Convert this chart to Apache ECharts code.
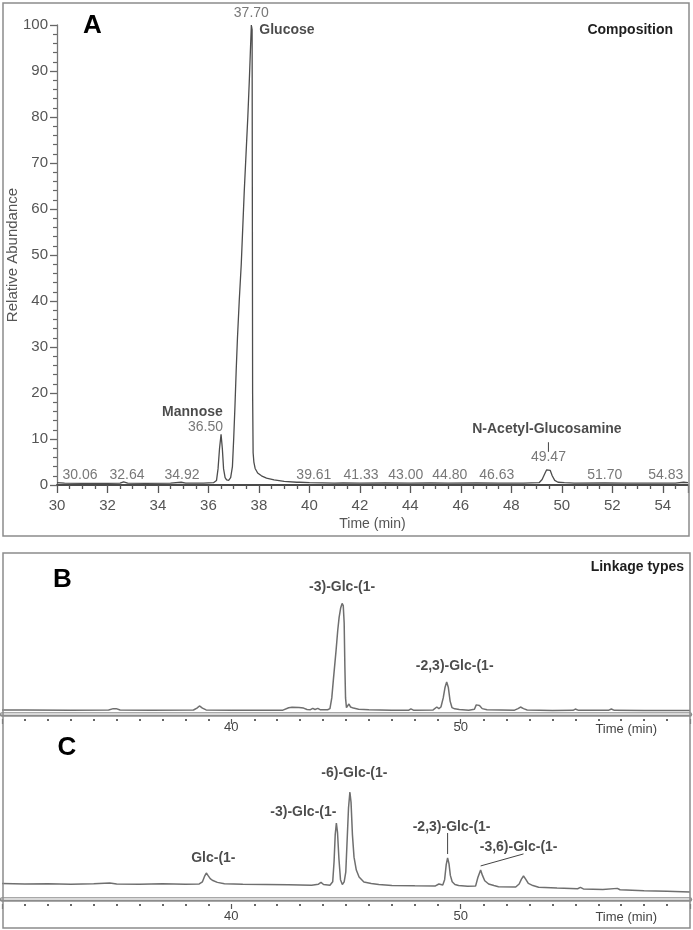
<!DOCTYPE html>
<html><head><meta charset="utf-8">
<script src="https://cdn.jsdelivr.net/npm/echarts@6/dist/echarts.min.js"></script>
<style>html,body{margin:0;padding:0;background:#fff}#c{width:693px;height:930px}</style>
</head><body><div id="c"></div>
<script>
// ================= DATA =================
// Panel A : monosaccharide composition (relative abundance, %)
const timeA  = [30.0,30.06,30.3,31.0,32.0,32.5,32.64,32.8,33.5,34.5,34.92,35.1,35.8,36.2,36.32,36.38,36.44,36.50,36.55,36.60,36.66,36.72,36.80,36.88,36.95,37.00,37.05,37.10,37.15,37.22,37.30,37.36,37.42,37.49,37.56,37.62,37.66,37.70,37.73,37.74,37.75,37.77,37.80,37.85,37.95,38.1,38.3,38.6,39.0,39.5,39.61,40.0,41.0,41.33,42.0,43.0,44.0,44.8,45.5,46.63,47.5,48.5,49.1,49.22,49.32,49.40,49.47,49.54,49.62,49.72,49.85,50.1,50.5,51.7,52.5,53.5,54.5,54.83,55.0];
const abundA = [0.5,0.6,0.4,0.35,0.35,0.4,0.7,0.4,0.35,0.4,0.6,0.4,0.4,0.5,1.0,3.5,8,11,8,3.5,1.6,1.1,1.0,1.6,4,10,17,25,32,40,48,56,64,72,80,88,94,100,99,60,20,7,5,3.6,2.6,2.0,1.5,1.1,0.8,0.6,0.6,0.5,0.4,0.45,0.4,0.45,0.4,0.45,0.4,0.45,0.4,0.4,0.5,1.2,2.4,3.3,3.6,3.2,2.0,1.0,0.6,0.5,0.4,0.45,0.4,0.4,0.4,0.6,0.5];
const peakNamesA   = ['Mannose','Glucose','N-Acetyl-Glucosamine'];
const peakTimesA   = [36.50, 37.70, 49.47];
const peakHeightsA = [11, 100, 3.6];
const minorRtA     = [30.06, 32.64, 34.92, 39.61, 41.33, 43.00, 44.80, 46.63, 51.70, 54.83];
const minorRtHeightA = 0.4;

// Panel B : linkage types (detector response, arbitrary units)
const timeB  = [30.0,31.0,33.0,34.65,34.85,34.98,35.15,36.5,38.35,38.5,38.61,38.74,38.9,40.0,41.0,42.25,42.5,42.65,42.95,43.15,43.3,43.45,43.55,43.65,43.77,43.87,44.2,44.30,44.38,44.45,44.57,44.64,44.70,44.77,44.83,44.88,44.92,44.95,44.98,45.02,45.08,45.13,45.2,45.32,45.55,46.0,47.0,47.74,47.83,47.94,48.8,48.96,49.05,49.14,49.24,49.32,49.39,49.46,49.54,49.62,49.74,49.94,50.35,50.6,50.68,50.74,50.82,50.94,51.15,52.35,52.5,52.61,52.74,52.9,54.0,54.9,55.0,55.14,56.44,56.57,56.7,58.0,60.0];
const abundB = [3.7,3.7,3.6,3.7,5.0,5.0,3.7,3.6,3.7,5.5,7.5,5.5,3.8,3.6,3.6,3.6,5.8,6.3,6.0,5.5,4.2,4.0,5.2,4.2,5.2,4.0,4.0,5,15,32,60,78,90,99,103,101,85,45,15,6,7.5,9.3,6.5,5.5,4.5,4.0,3.6,3.6,4.8,3.6,3.8,6.5,5.0,6.5,15,25,29.8,25,12,6,4.8,4.2,3.6,4.5,8.5,10.3,8.0,5.0,4.0,3.6,5,6.5,5.0,3.8,3.3,3.4,4.6,3.4,3.4,4.6,3.4,3.2,3.2];
const peakNamesB   = ['-3)-Glc-(1-','-2,3)-Glc-(1-'];
const peakTimesB   = [44.83, 49.39];
const peakHeightsB = [103, 29.8];

// Panel C : linkage types (detector response, arbitrary units)
const timeC  = [30.0,31.0,32.0,33.0,34.0,34.7,35.0,36.0,37.0,38.0,38.6,38.74,38.83,38.91,38.98,39.08,39.17,39.39,39.7,40.5,41.5,42.5,43.5,43.8,43.91,44.02,44.3,44.42,44.48,44.53,44.58,44.63,44.69,44.76,44.84,44.92,44.99,45.05,45.11,45.17,45.22,45.28,45.35,45.45,45.57,45.78,46.1,46.43,47.0,48.0,48.9,49.05,49.13,49.22,49.30,49.37,49.43,49.49,49.55,49.63,49.75,49.91,50.3,50.65,50.75,50.87,50.95,51.05,51.22,51.45,51.65,52.4,52.55,52.65,52.74,52.82,52.95,53.15,53.4,54.2,55.1,55.22,55.35,56.2,56.83,56.95,58.0,59.0,60.0];
const abundC = [14.5,14.0,14.3,13.8,14.2,14.8,14.0,13.8,14.2,13.8,14.0,16,21,24.2,22,19,17.5,15.5,14.3,13.8,13.5,13.2,12.8,13.8,15.5,13.5,12.8,16,35,60,70.8,62,38,18,13.5,16,25,55,85,99.7,90,60,39,27,20.5,15.8,14.5,13.5,12.5,12.3,12.2,14,15,13,18,32,38.2,33,22,16,13.5,12.5,11.8,12,20,27,22,17,14,12.5,11.5,11.2,14,18.5,21.4,19,14.5,12.5,11,10.2,9.6,10.8,9.4,8.8,9.9,8.6,7.8,7.2,6.5];
const peakNamesC   = ['Glc-(1-','-3)-Glc-(1-','-6)-Glc-(1-','-2,3)-Glc-(1-','-3,6)-Glc-(1-'];
const peakTimesC   = [38.91, 44.58, 45.17, 49.43, 50.87];
const peakHeightsC = [24.2, 70.8, 99.7, 38.2, 27];

// ================= LAYOUT / STYLE (not data) =================
const FONT = "'Liberation Sans', Arial, Helvetica, sans-serif";
const offNameA  = [[-28.6,-22.4],[35.6,5],[-1.5,-39]];
const offRtA    = [[-15.5,-7],[0,-12],[0,-11.5]];
const offMinorA = [21.5,3.3,0.8,14.3,18,20.7,19.3,20,0,-18];
const offB      = [[0,-16],[8,-16]];
const offC      = [[7,-15],[-33,-11],[4.5,-19],[4,-31],[38,-23]];

const zip = (a,b) => a.map((v,i)=>[v,b[i]]);
const boldLbl = {color:'#1e1e1e', fontSize:14, fontWeight:'bold', fontFamily:FONT};
const rtLbl   = {color:'#555', fontSize:14, fontFamily:FONT};

function labelSeries(xi, yi, times, heights, texts, offsets, style){
  return {
    type:'scatter', xAxisIndex:xi, yAxisIndex:yi, symbolSize:1, silent:true, z:5,
    itemStyle:{color:'rgba(0,0,0,0)'}, clip:false,
    data: times.map((t,i)=>({name:texts[i], value:[t, heights[i]], label:{offset:offsets[i]}})),
    label: Object.assign({show:true, position:'inside', formatter:p=>p.name,
      align:'center', verticalAlign:'middle', textBorderWidth:0}, style)
  };
}
function leader(xi, yi, pts){
  return {type:'line', xAxisIndex:xi, yAxisIndex:yi, data:pts, symbol:'none', silent:true,
    lineStyle:{color:'#444', width:1}, z:4, clip:false};
}

const traceBC = {color:'#6f6f6f', width:1.5};

function bottomAxes(grid, tickOffset, labelMargin){
  return [
    {type:'value', gridIndex:grid, min:30, max:60, position:'bottom',
     axisLine:{show:true, lineStyle:{color:'#8c8c8c', width:4.5}},
     axisTick:{show:false}, axisLabel:{show:false}, splitLine:{show:false}},
    {type:'value', gridIndex:grid, min:30, max:60, position:'bottom', z:3,
     axisLine:{show:true, lineStyle:{color:'#f2f2f2', width:1.5}},
     axisTick:{show:false}, axisLabel:{show:false}, splitLine:{show:false}},
    {type:'value', gridIndex:grid, min:30, max:60, interval:10, position:'bottom', offset:tickOffset,
     axisLine:{show:false},
     axisTick:{show:true, length:5, lineStyle:{color:'#555', width:1.2}},
     minorTick:{show:true, splitNumber:10, length:2, lineStyle:{color:'#666', width:2}},
     axisLabel:{show:true, margin:labelMargin, color:'#444', fontSize:13, fontFamily:FONT,
       formatter:v=>(v===40||v===50)?String(v):''},
     splitLine:{show:false}}
  ];
}

const option = {
  backgroundColor:'#fff',
  animation:false,
  grid:[
    {left:57, right:5, top:25, bottom:445, containLabel:false, outerBoundsMode:'none'},
    {left:2, right:3, top:553, bottom:216, containLabel:false, outerBoundsMode:'none'},
    {left:2, right:3, top:738, bottom:31, containLabel:false, outerBoundsMode:'none'}
  ],
  xAxis:[
    {type:'value', gridIndex:0, min:30, max:55, interval:2,
     axisLine:{show:true, lineStyle:{color:'#4a4a4a', width:2}},
     axisTick:{show:true, length:8, lineStyle:{color:'#555', width:1.3}},
     minorTick:{show:true, splitNumber:4, length:4, lineStyle:{color:'#555', width:1.3}},
     axisLabel:{margin:13, color:'#555', fontSize:15, fontFamily:FONT, formatter:v=>v===55?'':String(v)},
     splitLine:{show:false},
     name:'Time (min)', nameLocation:'middle', nameGap:32, nameMoveOverlap:false,
     nameTextStyle:{color:'#555', fontSize:14, fontFamily:FONT}},
    ...bottomAxes(1, 5, 2),
    ...bottomAxes(2, 5, 5.5)
  ],
  yAxis:[
    {type:'value', gridIndex:0, min:0, max:100, interval:10,
     axisLine:{show:true, lineStyle:{color:'#777', width:1.3}},
     axisTick:{show:true, length:7, lineStyle:{color:'#666', width:1.3}},
     minorTick:{show:true, splitNumber:5, length:4, lineStyle:{color:'#666', width:1.2}},
     axisLabel:{margin:9, color:'#555', fontSize:15, fontFamily:FONT},
     splitLine:{show:false},
     name:'Relative Abundance', nameLocation:'middle', nameGap:37, nameRotate:90, nameMoveOverlap:false,
     nameTextStyle:{color:'#555', fontSize:15, fontFamily:FONT}},
    {type:'value', gridIndex:1, min:0, max:150, show:false},
    {type:'value', gridIndex:2, min:0, max:150, show:false}
  ],
  series:[
    {type:'line', xAxisIndex:0, yAxisIndex:0, data:zip(timeA, abundA), symbol:'none',
     lineStyle:{color:'#4d4d4d', width:1.3}, z:3},
    labelSeries(0,0, peakTimesA, peakHeightsA, peakNamesA, offNameA, boldLbl),
    labelSeries(0,0, peakTimesA, peakHeightsA, peakTimesA.map(t=>t.toFixed(2)), offRtA, rtLbl),
    labelSeries(0,0, minorRtA, minorRtA.map(()=>minorRtHeightA), minorRtA.map(t=>t.toFixed(2)),
                offMinorA.map(d=>[d,-8]), rtLbl),
    leader(0,0, [[peakTimesA[2], peakHeightsA[2]+3.6],[peakTimesA[2], peakHeightsA[2]+5.7]]),

    {type:'line', xAxisIndex:1, yAxisIndex:1, data:zip(timeB, abundB), symbol:'none',
     lineStyle:traceBC, z:3},
    labelSeries(1,1, peakTimesB, peakHeightsB, peakNamesB, offB, boldLbl),

    {type:'line', xAxisIndex:4, yAxisIndex:2, data:zip(timeC, abundC), symbol:'none',
     lineStyle:traceBC, z:3},
    labelSeries(4,2, peakTimesC, peakHeightsC, peakNamesC, offC, boldLbl),
    leader(4,2, [[peakTimesC[3], peakHeightsC[3]+3.7],[peakTimesC[3], peakHeightsC[3]+23.3]]),
    leader(4,2, [[peakTimesC[4], peakHeightsC[4]+3.8],[peakTimesC[4]+1.87, peakHeightsC[4]+15]])
  ],
  graphic:[
    {type:'rect', shape:{x:3, y:3, width:686, height:533}, silent:true, z:10,
     style:{fill:'none', stroke:'#8c8c8c', lineWidth:1.5}},
    {type:'rect', shape:{x:3, y:553, width:687, height:375}, silent:true, z:10,
     style:{fill:'none', stroke:'#8c8c8c', lineWidth:1.5}},
    {type:'text', x:92.5, y:26, silent:true, z:10,
     style:{text:'A', font:'bold 26px '+FONT, fill:'#000', align:'center', verticalAlign:'middle'}},
    {type:'text', x:673, y:30, silent:true, z:10,
     style:{text:'Composition', font:'bold 14px '+FONT, fill:'#1e1e1e', align:'right', verticalAlign:'middle'}},
    {type:'text', x:62.5, y:580, silent:true, z:10,
     style:{text:'B', font:'bold 26px '+FONT, fill:'#000', align:'center', verticalAlign:'middle'}},
    {type:'text', x:684, y:567, silent:true, z:10,
     style:{text:'Linkage types', font:'bold 14px '+FONT, fill:'#1e1e1e', align:'right', verticalAlign:'middle'}},
    {type:'text', x:67, y:748, silent:true, z:10,
     style:{text:'C', font:'bold 26px '+FONT, fill:'#000', align:'center', verticalAlign:'middle'}},
    {type:'text', x:657, y:729, silent:true, z:10,
     style:{text:'Time (min)', font:'13px '+FONT, fill:'#444', align:'right', verticalAlign:'middle'}},
    {type:'text', x:657, y:917, silent:true, z:10,
     style:{text:'Time (min)', font:'13px '+FONT, fill:'#444', align:'right', verticalAlign:'middle'}}
  ]
};
const chart = echarts.init(document.getElementById('c'), null, {renderer:'canvas'});
chart.setOption(option);
</script></body></html>
